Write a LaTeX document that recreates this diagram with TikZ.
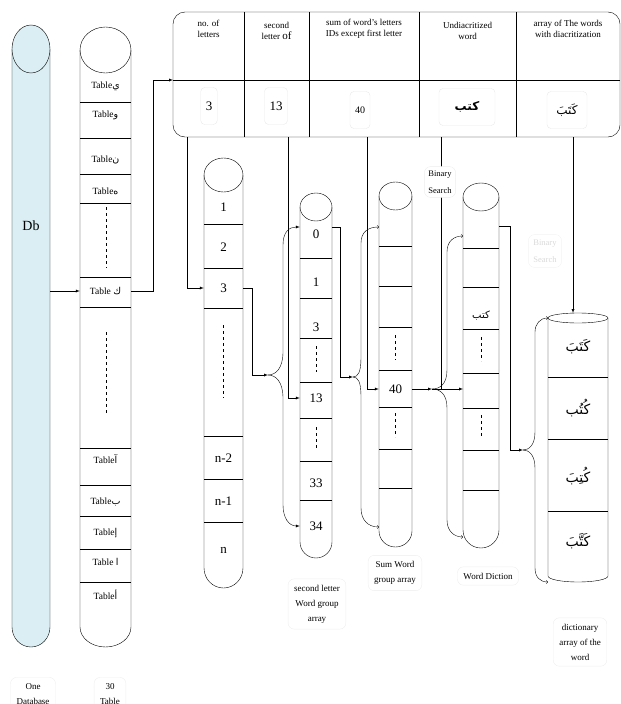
\documentclass[tikz,border=0pt]{standalone}
\usepackage{fontspec}
\setmainfont{Liberation Serif}
\newfontfamily\arabicfont[Script=Arabic]{DejaVu Sans}
\TeXXeTstate=1
\definecolor{dbblue}{HTML}{DAEEF3}
\tikzset{
  tabrow/.style={inner sep=0pt, minimum width=51pt, minimum height=20pt, font=\fontsize{9.5}{10}\selectfont},
  num/.style={inner sep=0pt, minimum height=20pt, font=\fontsize{13}{13}\selectfont},
  hdr/.style={align=center, inner sep=0pt, font=\fontsize{9}{11}\selectfont},
  valbox/.style={draw=black!9, rounded corners=4pt, inner sep=5pt, minimum height=37pt},
  tag/.style={draw=black!7, rounded corners=6pt, align=center, inner sep=6pt, font=\fontsize{9}{15}\selectfont},
}

\begin{document}
\begin{tikzpicture}[x=1pt,y=1pt]
\useasboundingbox (0,0) rectangle (621,-704);

    % Db
    \draw[fill=dbblue] (12,-49) -- (12,-627) arc[start angle=180,end angle=360,x radius=19,y radius=20] -- (50,-49);
    \draw[fill=dbblue] (31,-49) ellipse[x radius=19,y radius=24];
    \node[inner sep=0pt, minimum width=38pt, font=\fontsize{14}{14}\selectfont] (db) at (31,-226) {Db};

    % 30 tables
    \draw (80,-50) -- (80,-627) arc[start angle=180,end angle=360,x radius=25.5,y radius=20] -- (131,-50);
    \draw (105.5,-50) ellipse[x radius=25.5,y radius=23];
    \foreach \y in {102,138,174,203,277,307,448,485,516,549,582}
        \draw (80,-\y) -- (131,-\y);
    \node[tabrow] (tya)    at (105.5,-86)  {Table{\arabicfont ي}};
    \node[tabrow] (twaw)   at (105.5,-115) {Table{\arabicfont و}};
    \node[tabrow] (tnun)   at (105.5,-160) {Table{\arabicfont ن}};
    \node[tabrow] (tha)    at (105.5,-191) {Table{\arabicfont ه}};
    \node[tabrow] (tkaf)   at (105.5,-291) {Table {\arabicfont ك}};
    \node[tabrow] (tmadda) at (105.5,-459) {Table{\arabicfont آ}};
    \node[tabrow] (tba)    at (105.5,-502) {Table{\arabicfont ب}};
    \node[tabrow] (tkasra) at (105.5,-533) {Table{\arabicfont إ}};
    \node[tabrow] (talef)  at (105.5,-562) {Table {\arabicfont ا}};
    \node[tabrow] (thamza) at (105.5,-595) {Table{\arabicfont أ}};
    \draw[dashed] (106,-207) -- (106,-268);
    \draw[dashed] (106,-332) -- (106,-413);

    % word record
    \draw[rounded corners=12pt] (173,-12) rectangle (620,-137);
    \draw (173,-80) -- (620,-80);
    \foreach \x in {244,309,419,516}
        \draw (\x,-12) -- (\x,-137);
    \node[hdr] (h1) at (208.5,-29) {no. of\\letters};
    \node[hdr] (h2) at (276.5,-31) {second\\letter {\fontsize{11}{11}\selectfont of}};
    \node[hdr] (h3) at (364,-29) {sum of word's letters\\IDs except first letter};
    \node[hdr] (h4) at (467.5,-31) {Undiacritized\\word};
    \node[hdr] (h5) at (568,-29) {array of The words\\with diacritization};
    \node[valbox, font=\fontsize{13}{13}\selectfont] (v1) at (209,-106) {3};
    \node[valbox, font=\fontsize{13}{13}\selectfont] (v2) at (276,-106) {13};
    \node[valbox, font=\fontsize{10}{10}\selectfont] (v3) at (360,-110) {40};
    \node[valbox, minimum width=56pt, font=\fontsize{12}{12}\selectfont\bfseries\arabicfont] (v4) at (467,-107) {\beginR كتب\endR};
    \node[valbox, minimum width=40pt, font=\fontsize{12}{12}\selectfont\arabicfont] (v5) at (567,-110) {\beginR كَتَبَ\endR};
    \coordinate (entry) at (173,-80);
    \coordinate (q1) at (187,-137);
    \coordinate (q2) at (288,-137);
    \coordinate (q3) at (367,-137);
    \coordinate (q4) at (441,-137);
    \coordinate (q5) at (573,-137);

    % no. of letters array
    \draw (204,-175) -- (204,-568) arc[start angle=180,end angle=360,x radius=19.5,y radius=20] -- (243,-175);
    \draw (223.5,-175) ellipse[x radius=19.5,y radius=17];
    \foreach \y in {224,268,308,436,479,522}
        \draw (204,-\y) -- (243,-\y);
    \node[num, minimum width=39pt] (a1) at (223.5,-207) {1};
    \node[num, minimum width=39pt] (a2) at (223.5,-247) {2};
    \node[num, minimum width=39pt] (a3) at (223.5,-288) {3};
    \node[num, minimum width=39pt] (an2) at (223.5,-458) {n-2};
    \node[num, minimum width=39pt] (an1) at (223.5,-501) {n-1};
    \node[num, minimum width=39pt] (an) at (223.5,-550) {n};
    \draw[dashed] (223.5,-325) -- (223.5,-398);

    % second letter word group array
    \draw (300,-207) -- (300,-542) arc[start angle=180,end angle=360,x radius=16,y radius=16] -- (332,-207);
    \draw (316,-207) ellipse[x radius=16,y radius=14];
    \foreach \y in {258,298,338,382,418,461,500}
        \draw (300,-\y) -- (332,-\y);
    \node[num, minimum width=32pt] (b0) at (316,-234) {0};
    \node[num, minimum width=32pt] (b1) at (316,-282) {1};
    \node[num, minimum width=32pt] (b3) at (316,-327) {3};
    \node[num, minimum width=32pt] (b13) at (316,-398) {13};
    \node[num, minimum width=32pt] (b33) at (316,-483) {33};
    \node[num, minimum width=32pt] (b34) at (316,-526) {34};
    \draw[dashed] (316,-346) -- (316,-372);
    \draw[dashed] (316,-427) -- (316,-449);

    % sum word group array
    \draw (379,-196) -- (379,-531) arc[start angle=180,end angle=360,x radius=16.5,y radius=16] -- (412,-196);
    \draw (395.5,-196) ellipse[x radius=16.5,y radius=14];
    \foreach \y in {246,286,327,370,407,449,488}
        \draw (379,-\y) -- (412,-\y);
    \coordinate (c0) at (379,-227);
    \node[num, minimum width=33pt] (c40) at (395.5,-389) {40};
    \coordinate (cn) at (379,-527);
    \draw[dashed] (395.5,-335) -- (395.5,-360);
    \draw[dashed] (395.5,-413) -- (395.5,-437);

    % word diction
    \draw (463,-197) -- (463,-530) arc[start angle=180,end angle=360,x radius=18,y radius=18] -- (499,-197);
    \draw (481,-197) ellipse[x radius=18,y radius=14];
    \foreach \y in {248,287,329,373,408,450,490}
        \draw (463,-\y) -- (499,-\y);
    \coordinate (d0) at (463,-236);
    \coordinate (d0e) at (499,-226);
    \node[num, minimum width=36pt, font=\fontsize{10}{10}\selectfont\arabicfont] (dkataba) at (481,-316) {\beginR كتب\endR};
    \coordinate (d5) at (463,-389);
    \coordinate (dn) at (463,-537);
    \draw[dashed] (481,-337) -- (481,-361);
    \draw[dashed] (481,-415) -- (481,-439);

    % dictionary array of the word
    \draw (548,-318) -- (548,-576) arc[start angle=180,end angle=360,x radius=30,y radius=6] -- (608,-318);
    \draw (578,-318) ellipse[x radius=30,y radius=5];
    \foreach \y in {377,439,511}
        \draw (548,-\y) -- (608,-\y);
    \node[num, minimum width=60pt, font=\fontsize{14}{14}\selectfont\arabicfont] (e1) at (578,-347) {\beginR كَتَبَ\endR};
    \node[num, minimum width=60pt, font=\fontsize{14}{14}\selectfont\arabicfont] (e2) at (578,-408) {\beginR كُتُب\endR};
    \node[num, minimum width=60pt, font=\fontsize{14}{14}\selectfont\arabicfont] (e3) at (578,-476) {\beginR كُتِبَ\endR};
    \node[num, minimum width=60pt, font=\fontsize{14}{14}\selectfont\arabicfont] (e4) at (578,-541) {\beginR كَتَّبَ\endR};
    \coordinate (etop) at (548,-318);
    \coordinate (ebot) at (548,-582);
    \coordinate (etopc) at (578,-313);

    % connectors
    \draw[-latex] (db.east |- tkaf) -- (tkaf.west);
    \draw[-latex] (tkaf.east) -- ++(22,0) |- (entry);
    \draw[-latex] (q1) |- (a3.west);
    \coordinate (hA) at (268,-375);
    \draw[-latex] (a3.east) -- ++(9,0) |- (hA);
    \draw[-latex] (hA) .. controls (276,-375) and (283,-368) .. (283,-352) -- (283,-245) .. controls (283,-232) and (289,-227) .. ([yshift=7]b0.west);
    \draw[-latex] (hA) .. controls (276,-375) and (283,-382) .. (283,-398) -- (283,-505) .. controls (283,-518) and (289,-526) .. (b34.west);
    \draw[-latex] (q2) |- (b13.west);
    \coordinate (hB) at (353,-377);
    \draw[-latex] ([yshift=7]b0.east) -- ++(8,0) |- (hB);
    \draw[->] (hB) .. controls (358,-377) and (361,-372) .. (361,-358) -- (361,-243) .. controls (361,-232) and (368,-227) .. (c0);
    \draw[->] (hB) .. controls (358,-377) and (361,-382) .. (361,-396) -- (361,-508) .. controls (361,-520) and (368,-527) .. (cn);
    \draw[-latex] (q3) |- (c40.west);
    \coordinate (hC) at (432,-389);
    \draw[-latex] (c40.east) -- (hC);
    \draw[-latex] (hC) -- (d5);
    \draw (q4) -- (q4 |- hC);
    \draw[->] (hC) .. controls (440,-389) and (447,-384) .. (447,-370) -- (447,-252) .. controls (447,-241) and (454,-236) .. (d0);
    \draw[->] (hC) .. controls (440,-389) and (447,-394) .. (447,-408) -- (447,-520) .. controls (447,-531) and (454,-537) .. (dn);
    \coordinate (hD) at (523,-450);
    \draw[-latex] (d0e) -- ++(11,0) |- (hD);
    \draw[->] (hD) .. controls (529,-450) and (535,-445) .. (535,-432) -- (535,-332) .. controls (535,-324) and (540,-318) .. (etop);
    \draw[->] (hD) .. controls (529,-450) and (535,-455) .. (535,-468) -- (535,-568) .. controls (535,-577) and (540,-582) .. (ebot);
    \draw[-latex] (q5) -- (q5 |- etopc);

    % labels
    \node[tag, fill=white, font=\fontsize{8.5}{17}\selectfont, inner sep=4pt] (bs1) at (440,-182) {Binary\\Search};
    \node[tag, draw=black!5, text=black!15, font=\fontsize{8.5}{17}\selectfont, inner sep=5pt] (bs2) at (545,-251) {Binary\\Search};
    \node[tag] (lone) at (33,-694) {One\\Database};
    \node[tag] (lthirty) at (110,-694) {30\\Table};
    \node[tag] (lsecond) at (317,-604) {second letter\\Word group\\array};
    \node[tag] (lsum) at (395,-573) {Sum Word\\group array};
    \node[tag] (ldiction) at (488,-576) {Word Diction};
    \node[tag] (ldict) at (580,-642) {dictionary\\array of the\\word};
\end{tikzpicture}
\end{document}
